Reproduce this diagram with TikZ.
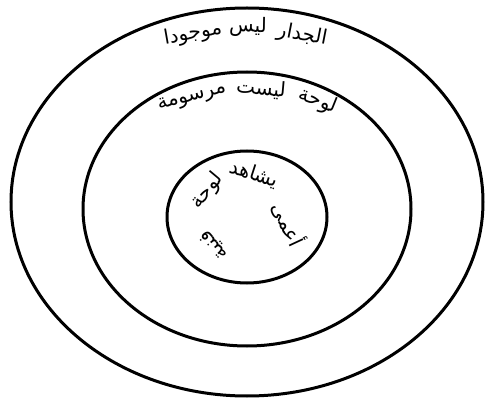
\documentclass[tikz,border=0pt]{standalone}
\usepackage{fontspec}
\newfontfamily\arabicfont[Script=Arabic]{DejaVu Sans}
\TeXXeTstate=1
\begin{document}
\begin{tikzpicture}[x=1pt,y=-1pt,
  ring/.style={line width=3pt},
  lbl/.style={font=\arabicfont\fontsize{20}{24}\selectfont, inner sep=0pt, anchor=center}]
\useasboundingbox (0,0) rectangle (488,401);
% rings
\draw[ring] (247,202) ellipse [x radius=236, y radius=194];
\draw[ring] (247,209) ellipse [x radius=164, y radius=137];
\draw[ring] (247,217) ellipse [x radius=80, y radius=66];
% outer text
\node[lbl, rotate=-11] (o1) at (302,35) {\beginR الجدار\endR};
\node[lbl, rotate=-1]  (o2) at (248,27) {\beginR ليس\endR};
\node[lbl, rotate=10]  (o3) at (193,34) {\beginR موجودا\endR};
% middle text
\node[lbl, rotate=-22] (m1) at (318,101) {\beginR لوحة\endR};
\node[lbl, rotate=-5]  (m2) at (261,89) {\beginR ليست\endR};
\node[lbl, rotate=15]  (m3) at (192,98) {\beginR مرسومة\endR};
% inner text
\node[lbl, rotate=-65] (i1) at (289,224) {\beginR أعمى\endR};
\node[lbl, rotate=-18] (i2) at (254,174) {\beginR يشاهد\endR};
\node[lbl, rotate=50]  (i3) at (207,191) {\beginR لوحة\endR};
\node[lbl, rotate=130] (i4) at (214,245) {\beginR فنية\endR};
\end{tikzpicture}
\end{document}
